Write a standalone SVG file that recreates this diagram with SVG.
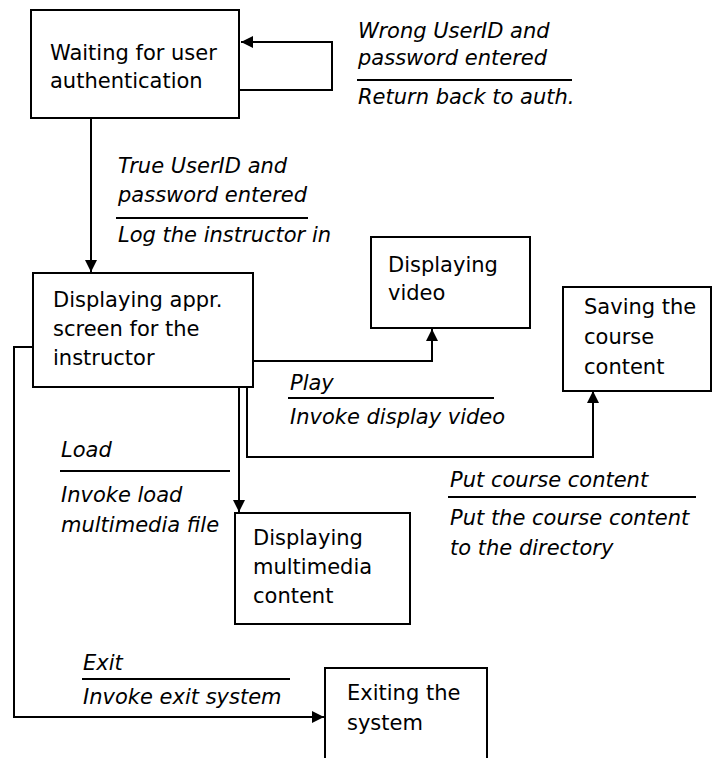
<svg xmlns="http://www.w3.org/2000/svg" width="714" height="758" viewBox="0 0 714 758">
<style>
.box{fill:#fff;stroke:#000;stroke-width:2}
.t{font-family:"DejaVu Sans",sans-serif;font-size:21px;fill:#000}
.l{font-family:"DejaVu Sans",sans-serif;font-size:21px;font-style:italic;fill:#000}
.c{fill:none;stroke:#000;stroke-width:2}
.sep{stroke:#000;stroke-width:2}
</style>
<defs>
<marker id="arr" markerUnits="userSpaceOnUse" markerWidth="14" markerHeight="12" refX="12" refY="6" orient="auto">
<path d="M0,0 L12,6 L0,12 Z" fill="#000"/>
</marker>
</defs>
<rect width="714" height="758" fill="#fff"/>
<g id="connectors">
<path class="c" d="M239,90 H332 V42 H241" marker-end="url(#arr)"/>
<path class="c" d="M91,118 V272" marker-end="url(#arr)"/>
<path class="c" d="M253,361 H432 V329" marker-end="url(#arr)"/>
<path class="c" d="M247,387 V457 H593 V391" marker-end="url(#arr)"/>
<path class="c" d="M239,387 V512" marker-end="url(#arr)"/>
<path class="c" d="M33,347 H14 V717 H324" marker-end="url(#arr)"/>
</g>
<g id="label-wrong">
<text class="l" x="358" y="38">Wrong UserID and</text>
<text class="l" x="358" y="65">password entered</text>
<line class="sep" x1="357" y1="80" x2="572" y2="80"/>
<text class="l" x="358" y="104">Return back to auth.</text>
</g>
<g id="label-true">
<text class="l" x="118" y="173">True UserID and</text>
<text class="l" x="118" y="202">password entered</text>
<line class="sep" x1="116" y1="218" x2="308" y2="218"/>
<text class="l" x="118" y="242">Log the instructor in</text>
</g>
<g id="label-play">
<text class="l" x="290" y="390">Play</text>
<line class="sep" x1="288" y1="398" x2="494" y2="398"/>
<text class="l" x="290" y="424">Invoke display video</text>
</g>
<g id="label-load">
<text class="l" x="61" y="457">Load</text>
<line class="sep" x1="60" y1="471" x2="230" y2="471"/>
<text class="l" x="61" y="502">Invoke load</text>
<text class="l" x="61" y="532">multimedia file</text>
</g>
<g id="label-put">
<text class="l" x="450" y="487">Put course content</text>
<line class="sep" x1="448" y1="497" x2="696" y2="497"/>
<text class="l" x="450" y="525">Put the course content</text>
<text class="l" x="450" y="555">to the directory</text>
</g>
<g id="label-exit">
<text class="l" x="83" y="670">Exit</text>
<line class="sep" x1="82" y1="679" x2="290" y2="679"/>
<text class="l" x="83" y="704">Invoke exit system</text>
</g>
<g id="waiting">
<rect class="box" x="31" y="10" width="208" height="108"/>
<text class="t" x="50" y="60">Waiting for user</text>
<text class="t" x="50" y="88">authentication</text>
</g>
<g id="displaying-screen">
<rect class="box" x="33" y="273" width="220" height="114"/>
<text class="t" x="53" y="307">Displaying appr.</text>
<text class="t" x="53" y="336">screen for the</text>
<text class="t" x="53" y="365">instructor</text>
</g>
<g id="displaying-video">
<rect class="box" x="371" y="237" width="159" height="91"/>
<text class="t" x="388" y="272">Displaying</text>
<text class="t" x="388" y="300">video</text>
</g>
<g id="saving">
<rect class="box" x="563" y="287" width="148" height="104"/>
<text class="t" x="584" y="314">Saving the</text>
<text class="t" x="584" y="344">course</text>
<text class="t" x="584" y="374">content</text>
</g>
<g id="displaying-multimedia">
<rect class="box" x="235" y="513" width="175" height="111"/>
<text class="t" x="253" y="545">Displaying</text>
<text class="t" x="253" y="574">multimedia</text>
<text class="t" x="253" y="603">content</text>
</g>
<g id="exiting">
<rect class="box" x="325" y="668" width="162" height="100"/>
<text class="t" x="347" y="700">Exiting the</text>
<text class="t" x="347" y="730">system</text>
</g>
</svg>
